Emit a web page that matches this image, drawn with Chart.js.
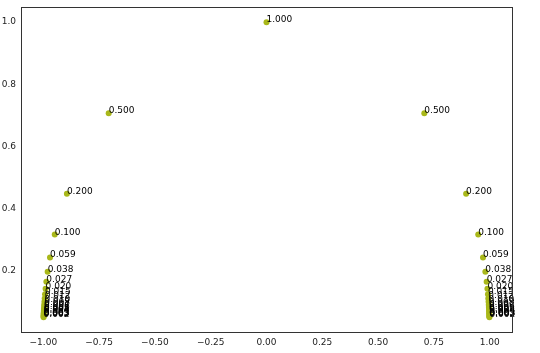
<!DOCTYPE html>
<html>
<head>
<meta charset="utf-8">
<script src="https://cdn.jsdelivr.net/npm/chart.js@4"></script>
<style>
  html, body { margin: 0; padding: 0; background: #fff; }
  #wrap { width: 540px; height: 353px; }
</style>
</head>
<body>
<div id="wrap"><canvas id="circle-chart"></canvas></div>
<script>
// right half of the arc (x >= 0)
const xRight = [0, 0.7071, 0.8944, 0.9487, 0.9701, 0.9806, 0.9864, 0.9899, 0.9923, 0.9939,
  0.9950, 0.9959, 0.9965, 0.9971, 0.9975, 0.9978, 0.9981, 0.9983, 0.9985, 0.9986, 0.9988];
const yValues = [1, 0.7071, 0.4472, 0.3162, 0.2425, 0.1961, 0.1644, 0.1414, 0.1240, 0.1104,
  0.0995, 0.0905, 0.0830, 0.0767, 0.0712, 0.0665, 0.0624, 0.0586, 0.0554, 0.0525, 0.0499];
const labelValues = [1.000, 0.500, 0.200, 0.100, 0.059, 0.038, 0.027, 0.020, 0.015, 0.012,
  0.010, 0.008, 0.007, 0.006, 0.005, 0.004, 0.004, 0.003, 0.003, 0.003, 0.002];
const xTicks = [-1.00, -0.75, -0.50, -0.25, 0.00, 0.25, 0.50, 0.75, 1.00];
const yTicks = [0.2, 0.4, 0.6, 0.8, 1.0];

const points = [];
const labels = [];
for (let i = 0; i < xRight.length; i++) {
  points.push({ x: xRight[i], y: yValues[i] });
  labels.push(labelValues[i]);
  if (i > 0) {
    points.push({ x: -xRight[i], y: yValues[i] });
    labels.push(labelValues[i]);
  }
}

const FONT = 'DejaVu Sans, sans-serif';

// writes each value next to its point, like the original text annotations
const pointLabels = {
  id: 'pointLabels',
  afterDatasetsDraw(chart) {
    const ctx = chart.ctx;
    const meta = chart.getDatasetMeta(0);
    ctx.save();
    ctx.font = '9px ' + FONT;
    ctx.fillStyle = '#000';
    ctx.textAlign = 'left';
    ctx.textBaseline = 'alphabetic';
    meta.data.forEach((el, i) => {
      ctx.fillText(labels[i].toFixed(3), el.x, el.y);
    });
    ctx.restore();
  }
};

// box around the plot area
const frame = {
  id: 'frame',
  afterDraw(chart) {
    const a = chart.chartArea;
    const ctx = chart.ctx;
    ctx.save();
    ctx.strokeStyle = '#333';
    ctx.lineWidth = 1;
    ctx.strokeRect(Math.round(a.left) + 0.5, Math.round(a.top) + 0.5,
      Math.round(a.right - a.left), Math.round(a.bottom - a.top));
    ctx.restore();
  }
};

new Chart(document.getElementById('circle-chart'), {
  type: 'scatter',
  data: {
    datasets: [{
      data: points,
      backgroundColor: '#a9b81a',
      borderWidth: 0,
      pointRadius: 3,
      pointHoverRadius: 3
    }]
  },
  options: {
    responsive: true,
    maintainAspectRatio: false,
    animation: false,
    layout: { padding: { top: 7, right: 28, left: 0, bottom: 0 } },
    plugins: { legend: { display: false }, tooltip: { enabled: false } },
    scales: {
      x: {
        type: 'linear',
        min: -1.1,
        max: 1.1,
        afterBuildTicks: (s) => { s.ticks = xTicks.map(v => ({ value: v })); },
        afterFit: (s) => { s.height = 21; },
        grid: { display: false, drawTicks: true, tickLength: 3, tickColor: '#333' },
        border: { display: false },
        ticks: {
          color: '#222',
          font: { family: FONT, size: 9 },
          padding: 2,
          maxRotation: 0,
          callback: (v) => v.toFixed(2).replace('-', '\u2212')
        }
      },
      y: {
        type: 'linear',
        min: 0.0024,
        max: 1.0475,
        afterBuildTicks: (s) => { s.ticks = yTicks.map(v => ({ value: v })); },
        afterFit: (s) => { s.width = 21; },
        grid: { display: false, drawTicks: true, tickLength: 3, tickColor: '#333' },
        border: { display: false },
        ticks: {
          color: '#222',
          font: { family: FONT, size: 9 },
          padding: 2,
          callback: (v) => v.toFixed(1)
        }
      }
    }
  },
  plugins: [pointLabels, frame]
});
</script>
</body>
</html>
